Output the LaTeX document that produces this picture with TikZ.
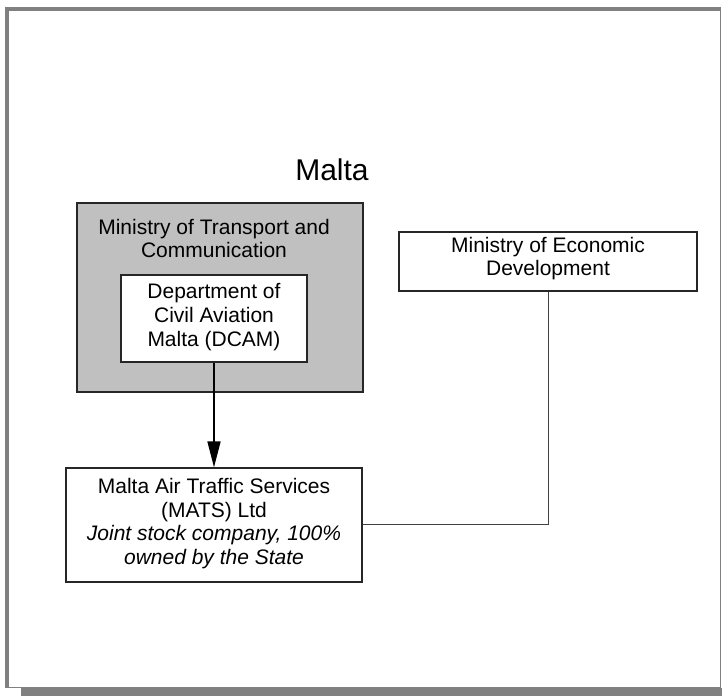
\documentclass[tikz,border=0pt]{standalone}
\usepackage{fontspec}
\setmainfont{Liberation Sans}
\usetikzlibrary{arrows.meta}
\definecolor{framegray}{HTML}{808080}
\definecolor{boxgray}{HTML}{C0C0C0}
\begin{document}
\begin{tikzpicture}[x=1pt,y=-1pt,
  txt/.style={align=center,inner sep=0pt,font=\fontsize{21}{23.7}\selectfont},
  box/.style={draw=black!85,line width=1.3pt,inner sep=0pt},
  conn/.style={draw=black!75,line width=0.9pt},
  arr/.style={draw=black,line width=1.7pt,-{Triangle[length=26pt,width=13pt]}}]
\useasboundingbox (0,0) rectangle (722,696);
% frame
\fill[framegray] (21,688) rectangle (722,696);
\draw[framegray,line width=1pt] (720.5,9) -- (720.5,687.5) -- (7,687.5);
\draw[framegray,line width=4pt] (7,687.5) -- (7,9) -- (720.5,9);
% title
\node[txt,font=\fontsize{30}{33}\selectfont] (title) at (332,170) {Malta};
% Ministry of Transport and Communication
\node[box,fill=boxgray,minimum width=286pt,minimum height=189pt] (mtc) at (220,297.5) {};
\node[txt] (mtct) at (214,238.5) {Ministry of Transport and\\Communication};
% DCAM
\node[box,fill=white,minimum width=186pt,minimum height=87pt] (dcam) at (214,318.5) {};
\node[txt] (dcamt) at (214,317) {Department of\\Civil Aviation\\Malta (DCAM)};
% Ministry of Economic Development
\node[box,fill=white,minimum width=298pt,minimum height=59pt] (med) at (548,261.5) {};
\node[txt] (medt) at (548,258.5) {Ministry of Economic\\Development};
% MATS
\node[box,fill=white,minimum width=296pt,minimum height=114pt] (mats) at (214,525) {};
\node[txt] (matst) at (214,523.5) {Malta Air Traffic Services\\(MATS) Ltd\\\itshape Joint stock company, 100\%\\\itshape owned by the State};
% connectors
\draw[arr] (dcam.south) -- (mats.north);
\draw[conn] (med.south) |- ([yshift=1pt]mats.east);
\end{tikzpicture}
\end{document}
